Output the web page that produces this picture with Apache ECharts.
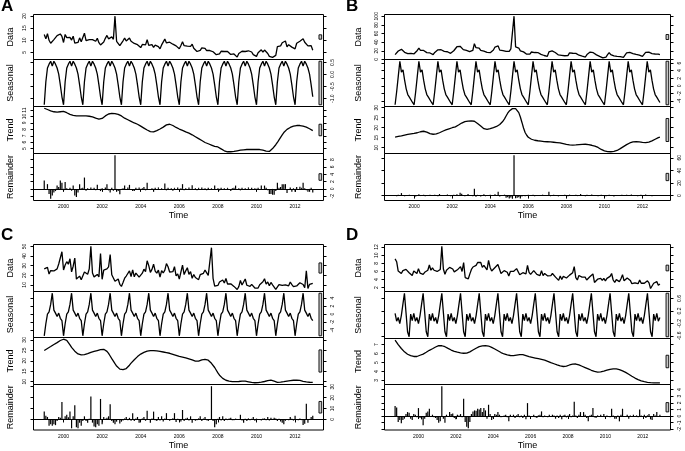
<!DOCTYPE html>
<html><head><meta charset="utf-8">
<script src="https://cdn.jsdelivr.net/npm/echarts@6/dist/echarts.min.js"></script>
<style>html,body{margin:0;padding:0;background:#fff}#c{width:685px;height:451px}</style>
</head><body><div id="c"></div>
<script>
// ---------------- DATA (monthly STL components) ----------------
const startA = 1999, startB = 1999, startC = 1999, startD = 1998.75;
const xTickYears = [2000, 2002, 2004, 2006, 2008, 2010, 2012];

const dataA = [
12.4,10.6,12.7,10.0,8.8,9.4,10.3,10.5,11.9,11.2,12.6,11.6,
9.1,12.4,11.1,10.6,11.2,10.1,11.7,8.8,8.2,9.1,11.0,9.4,
9.2,12.9,9.9,10.7,10.3,10.8,10.3,10.6,9.6,10.8,9.0,8.1,
8.7,9.3,10.8,12.0,10.6,9.8,11.4,10.4,19.9,9.6,9.3,7.8,
8.6,9.8,10.9,9.7,10.5,10.9,9.6,8.9,8.7,9.2,8.2,8.1,
7.0,8.3,9.0,8.1,10.2,7.9,7.9,8.2,7.1,8.0,7.2,7.4,
6.5,8.1,8.4,10.5,8.9,9.5,9.2,9.4,8.4,8.8,7.7,7.6,
6.5,7.9,9.4,7.8,8.4,7.6,8.4,7.5,8.4,6.7,6.6,5.4,
5.6,5.9,6.9,6.2,6.7,5.8,6.6,5.8,6.0,5.3,5.8,4.1,
4.2,4.4,5.5,5.0,5.4,4.6,5.4,4.7,4.2,4.7,4.4,4.6,
3.1,4.6,4.6,5.5,5.2,5.4,5.1,5.7,4.9,5.2,4.1,4.1,
3.4,4.9,4.8,6.1,5.1,6.0,5.5,4.6,3.4,3.3,3.0,2.8,
3.8,7.4,6.9,7.7,9.0,9.2,9.7,7.3,8.2,8.7,7.2,7.8,
6.5,8.8,8.7,9.6,9.4,10.6,9.2,8.4,7.7,7.3,7.8,5.9];
const seasonalA = [
-1.25,-0.30,0.27,0.43,0.55,0.35,0.55,0.43,0.27,0.02,-0.43,-0.92,
-1.25,-0.30,0.27,0.43,0.55,0.35,0.55,0.43,0.27,0.02,-0.43,-0.92,
-1.25,-0.30,0.27,0.43,0.55,0.35,0.55,0.43,0.27,0.02,-0.43,-0.92,
-1.25,-0.30,0.27,0.43,0.55,0.35,0.55,0.43,0.27,0.02,-0.43,-0.92,
-1.25,-0.30,0.27,0.43,0.55,0.35,0.55,0.43,0.27,0.02,-0.43,-0.92,
-1.25,-0.30,0.27,0.43,0.55,0.35,0.55,0.43,0.27,0.02,-0.43,-0.92,
-1.25,-0.30,0.27,0.43,0.55,0.35,0.55,0.43,0.27,0.02,-0.43,-0.92,
-1.25,-0.30,0.27,0.43,0.55,0.35,0.55,0.43,0.27,0.02,-0.43,-0.92,
-1.25,-0.30,0.27,0.43,0.55,0.35,0.55,0.43,0.27,0.02,-0.43,-0.92,
-1.25,-0.30,0.27,0.43,0.55,0.35,0.55,0.43,0.27,0.02,-0.43,-0.92,
-1.25,-0.30,0.27,0.43,0.55,0.35,0.55,0.43,0.27,0.02,-0.43,-0.92,
-1.25,-0.30,0.27,0.43,0.55,0.35,0.55,0.43,0.27,0.02,-0.43,-0.92,
-1.25,-0.30,0.27,0.43,0.55,0.35,0.55,0.43,0.27,0.02,-0.43,-0.92,
-1.25,-0.30,0.27,0.43,0.55,0.35,0.55,0.43,0.27,0.02,-0.43,-0.92];
const trendA = [
11.3,11.2,11.1,11.0,10.9,10.8,10.75,10.7,10.7,10.7,10.75,10.8,
10.8,10.75,10.6,10.5,10.35,10.25,10.2,10.15,10.1,10.1,10.1,10.1,
10.1,10.1,10.1,10.1,10.05,10.0,9.95,9.85,9.75,9.65,9.6,9.6,
9.7,9.9,10.1,10.3,10.4,10.45,10.5,10.45,10.45,10.4,10.35,10.25,
10.1,9.9,9.75,9.6,9.5,9.4,9.25,9.1,9.0,8.9,8.8,8.65,
8.5,8.35,8.2,8.05,7.9,7.75,7.65,7.6,7.6,7.7,7.8,7.95,
8.05,8.15,8.35,8.55,8.7,8.8,8.8,8.75,8.6,8.45,8.3,8.15,
8.05,7.95,7.85,7.75,7.6,7.5,7.4,7.25,7.15,7.0,6.85,6.7,
6.55,6.4,6.25,6.1,5.95,5.85,5.75,5.65,5.55,5.45,5.35,5.3,
5.25,5.1,4.95,4.8,4.65,4.55,4.5,4.5,4.5,4.5,4.55,4.6,
4.65,4.7,4.75,4.8,4.8,4.85,4.85,4.85,4.85,4.85,4.85,4.85,
4.85,4.85,4.85,4.8,4.75,4.7,4.6,4.55,4.55,4.7,5.0,5.3,
5.6,5.95,6.35,6.75,7.15,7.5,7.8,8.0,8.2,8.3,8.4,8.5,
8.55,8.6,8.6,8.6,8.55,8.5,8.45,8.35,8.2,8.1,7.95,7.8];
const remainderA = [
2.3,-0.3,1.3,-1.4,-2.7,-1.8,-1.0,-0.6,0.9,0.5,2.3,1.7,
-0.5,1.9,0.2,-0.3,0.3,-0.5,0.9,-1.8,-2.2,-1.0,1.3,0.2,
0.3,3.1,-0.5,0.2,-0.3,0.4,-0.2,0.3,-0.4,1.1,-0.2,-0.6,
0.2,-0.3,0.4,1.3,-0.4,-1.0,0.3,-0.5,9.2,-0.8,-0.6,-1.5,
-0.3,0.2,0.9,-0.3,0.4,1.1,-0.2,-0.6,-0.6,0.3,-0.2,0.4,
-0.3,0.2,0.5,-0.4,1.7,-0.2,-0.3,0.2,-0.8,0.3,-0.2,0.4,
-0.3,0.2,-0.2,1.5,-0.4,0.3,-0.2,0.2,-0.5,0.3,-0.2,0.4,
-0.3,0.2,1.3,-0.4,0.2,-0.3,0.4,-0.2,1.0,-0.3,0.2,-0.4,
0.3,-0.2,0.4,-0.3,0.2,-0.4,0.3,-0.3,0.2,-0.2,0.9,-0.3,
0.2,-0.4,0.3,-0.2,0.2,-0.3,0.3,-0.2,-0.6,0.2,0.3,0.9,
-0.3,0.2,-0.4,0.3,-0.2,0.2,-0.3,0.4,-0.2,0.3,-0.3,0.2,
-0.2,0.3,-0.3,0.9,-0.2,0.9,0.3,-0.4,-1.4,-1.4,-1.6,-1.6,
-0.6,1.7,0.3,0.5,1.3,1.3,1.3,-1.1,-0.3,0.4,-0.8,0.2,
-0.8,0.5,-0.2,0.6,0.3,1.7,0.2,-0.4,-0.8,-0.8,0.3,-1.0];

const dataB = [
11.1,13.0,19.6,21.8,23.5,21.3,16.6,16.3,13.6,15.0,14.0,12.0,
13.1,14.3,20.8,26.2,20.9,22.8,20.9,16.3,15.9,13.6,15.1,12.7,
11.1,16.4,20.2,22.4,23.6,22.6,18.9,18.8,16.1,17.9,16.6,14.3,
15.9,20.2,22.3,29.5,25.3,30.5,26.8,22.7,19.5,21.2,22.4,18.2,
18.9,20.8,36.5,27.2,26.9,26.3,20.8,20.3,19.2,15.2,16.3,14.1,
15.7,18.7,21.9,28.8,25.2,31.2,21.6,22.3,20.4,22.9,18.9,20.3,
18.8,24.5,27.0,100.2,29.1,29.5,26.5,20.0,18.8,17.6,13.2,12.3,
11.4,12.3,17.3,21.9,16.1,18.2,16.0,12.0,11.8,11.7,9.2,9.6,
7.2,17.4,14.4,19.8,17.5,16.2,14.9,10.5,11.1,9.7,7.8,8.6,
7.0,9.0,15.4,18.4,14.4,16.4,14.1,9.9,9.8,11.1,7.7,8.1,
5.7,11.4,14.6,17.1,16.6,15.6,11.7,10.7,6.6,7.2,7.1,3.8,
4.2,5.7,11.0,15.7,11.0,13.1,8.2,8.0,7.3,5.2,6.7,7.1,
5.0,10.3,15.2,17.9,16.4,18.7,13.6,12.8,11.7,9.0,10.0,9.5,
7.0,11.9,16.6,18.3,16.9,18.3,13.7,13.6,12.7,11.1,12.6,11.3];
const seasonalB = [
-5.0,-1.5,2.5,6.5,3.6,4.2,1.5,-0.8,-2.3,-3.0,-3.4,-4.4,
-5.0,-1.5,2.5,6.5,3.6,4.2,1.5,-0.8,-2.3,-3.0,-3.4,-4.4,
-5.0,-1.5,2.5,6.5,3.6,4.2,1.5,-0.8,-2.3,-3.0,-3.4,-4.4,
-5.0,-1.5,2.5,6.5,3.6,4.2,1.5,-0.8,-2.3,-3.0,-3.4,-4.4,
-5.0,-1.5,2.5,6.5,3.6,4.2,1.5,-0.8,-2.3,-3.0,-3.4,-4.4,
-5.0,-1.5,2.5,6.5,3.6,4.2,1.5,-0.8,-2.3,-3.0,-3.4,-4.4,
-5.0,-1.5,2.5,6.5,3.6,4.2,1.5,-0.8,-2.3,-3.0,-3.4,-4.4,
-5.0,-1.5,2.5,6.5,3.6,4.2,1.5,-0.8,-2.3,-3.0,-3.4,-4.4,
-5.0,-1.5,2.5,6.5,3.6,4.2,1.5,-0.8,-2.3,-3.0,-3.4,-4.4,
-5.0,-1.5,2.5,6.5,3.6,4.2,1.5,-0.8,-2.3,-3.0,-3.4,-4.4,
-5.0,-1.5,2.5,6.5,3.6,4.2,1.5,-0.8,-2.3,-3.0,-3.4,-4.4,
-5.0,-1.5,2.5,6.5,3.6,4.2,1.5,-0.8,-2.3,-3.0,-3.4,-4.4,
-5.0,-1.5,2.5,6.5,3.6,4.2,1.5,-0.8,-2.3,-3.0,-3.4,-4.4,
-5.0,-1.5,2.5,6.5,3.6,4.2,1.5,-0.8,-2.3,-3.0,-3.4,-4.4];
const trendB = [
15.3,15.45,15.6,15.75,15.9,16.1,16.3,16.5,16.65,16.8,16.9,17.0,
17.1,17.25,17.45,17.7,17.95,18.1,18.2,18.1,17.8,17.4,17.0,16.8,
16.7,16.7,16.85,17.1,17.45,17.85,18.2,18.55,18.85,19.1,19.4,19.65,
19.95,20.2,20.4,20.8,21.3,21.8,22.3,22.7,23.0,23.2,23.3,23.35,
23.35,23.3,23.2,22.7,22.1,21.5,20.8,20.1,19.5,19.2,19.15,19.3,
19.5,19.75,20.0,20.3,20.6,21.0,21.6,22.3,23.2,24.4,25.8,27.2,
28.3,29.0,29.5,29.7,29.5,28.8,27.5,25.3,22.6,19.8,17.6,16.2,
15.2,14.6,14.2,13.9,13.7,13.55,13.45,13.35,13.25,13.15,13.05,13.0,
12.95,12.9,12.85,12.8,12.7,12.6,12.55,12.5,12.4,12.2,12.0,11.8,
11.6,11.45,11.35,11.3,11.3,11.35,11.4,11.5,11.55,11.6,11.65,11.7,
11.7,11.65,11.55,11.4,11.2,11.0,10.8,10.5,10.1,9.6,9.1,8.7,
8.35,8.15,8.0,7.95,7.95,8.0,8.1,8.3,8.6,9.0,9.5,10.0,
10.5,11.0,11.5,11.95,12.35,12.65,12.85,13.0,13.0,12.95,12.85,12.7,
12.6,12.5,12.5,12.6,12.8,13.1,13.4,13.8,14.2,14.6,15.0,15.3];
const remainderB = [
0.8,-1.0,1.5,-0.5,4.0,1.0,-1.2,0.6,-0.8,1.2,0.5,-0.6,
1.0,-1.5,0.8,2.0,-0.7,0.5,1.2,-1.0,0.4,-0.8,1.5,0.3,
-0.6,1.2,0.8,-1.2,2.5,0.5,-0.8,1.0,-0.5,1.8,0.6,-1.0,
0.9,1.5,-0.6,2.2,0.4,4.5,3.0,0.8,-1.2,1.0,2.5,-0.8,
0.5,-1.0,10.8,-2.0,1.2,0.6,-1.5,1.0,2.0,-1.0,0.5,-0.8,
1.2,0.4,-0.6,2.0,1.0,6.0,-1.5,0.8,-0.5,1.5,-3.5,-2.5,
-4.5,-3.0,-5.0,64.0,-4.0,-3.5,-2.5,-4.5,-1.5,0.8,-1.0,0.5,
1.2,-0.8,0.6,1.5,-1.2,0.4,1.0,-0.6,0.8,1.5,-0.5,1.0,
-0.8,6.0,-1.0,0.5,1.2,-0.6,0.8,-1.2,1.0,0.5,-0.8,1.2,
0.4,-1.0,1.5,0.6,-0.5,0.8,1.2,-0.8,0.5,2.5,-0.6,0.8,
-1.0,1.2,0.5,-0.8,1.8,0.4,-0.6,1.0,-1.2,0.6,1.4,-0.5,
0.8,-1.0,0.5,1.2,-0.6,0.9,-1.4,0.5,1.0,-0.8,0.6,1.5,
-0.5,0.8,1.2,-0.6,0.4,1.8,-0.8,0.6,1.0,-1.0,0.5,1.2,
-0.6,0.9,1.6,-0.8,0.5,1.0,-1.2,0.6,0.8,-0.5,1.0,0.4];

const dataC = [
26.7,26.5,28.2,21.2,24.9,26.7,24.5,23.3,26.6,31.7,30.2,44.5,
25.5,30.7,34.1,31.5,37.2,23.5,29.4,37.8,16.0,15.4,19.1,15.4,
15.9,23.4,21.6,21.1,26.7,50.2,22.4,18.3,16.9,20.8,18.3,42.5,
15.8,25.4,25.8,26.6,28.8,41.5,20.5,17.1,13.7,15.7,16.1,10.6,
8.4,12.4,16.9,19.2,18.6,24.6,18.7,25.7,18.4,22.3,23.3,18.1,
17.2,22.2,26.3,23.7,35.1,30.0,23.0,26.1,31.5,24.4,22.2,25.3,
18.1,24.8,22.4,25.4,32.1,28.9,23.4,23.6,23.7,28.9,19.3,21.4,
16.1,17.8,30.5,20.7,24.6,27.8,20.9,23.8,16.9,20.8,17.6,17.4,
15.4,20.6,18.9,22.0,25.4,25.1,19.8,20.3,48.7,16.7,8.6,9.6,
9.4,13.0,11.3,15.1,12.0,16.7,10.9,11.5,11.1,9.5,8.4,9.2,
5.2,8.2,14.5,9.8,9.8,16.1,9.6,11.2,8.4,10.5,10.8,6.7,
4.9,6.7,10.2,9.4,13.2,16.3,10.7,13.0,9.1,12.5,10.1,10.2,
5.4,5.8,10.3,8.6,9.4,10.9,10.0,11.0,9.0,13.0,10.2,8.1,
8.9,8.9,10.0,12.2,12.2,10.4,7.0,24.6,6.3,10.5,11.0,11.6];
const seasonalC = [
-5.4,-2.4,0.0,0.55,2.4,5.2,1.0,0.24,-0.6,0.24,-1.05,-1.6,
-5.4,-2.4,0.0,0.55,2.4,5.2,1.0,0.24,-0.6,0.24,-1.05,-1.6,
-5.4,-2.4,0.0,0.55,2.4,5.2,1.0,0.24,-0.6,0.24,-1.05,-1.6,
-5.4,-2.4,0.0,0.55,2.4,5.2,1.0,0.24,-0.6,0.24,-1.05,-1.6,
-5.4,-2.4,0.0,0.55,2.4,5.2,1.0,0.24,-0.6,0.24,-1.05,-1.6,
-5.4,-2.4,0.0,0.55,2.4,5.2,1.0,0.24,-0.6,0.24,-1.05,-1.6,
-5.4,-2.4,0.0,0.55,2.4,5.2,1.0,0.24,-0.6,0.24,-1.05,-1.6,
-5.4,-2.4,0.0,0.55,2.4,5.2,1.0,0.24,-0.6,0.24,-1.05,-1.6,
-5.4,-2.4,0.0,0.55,2.4,5.2,1.0,0.24,-0.6,0.24,-1.05,-1.6,
-5.4,-2.4,0.0,0.55,2.4,5.2,1.0,0.24,-0.6,0.24,-1.05,-1.6,
-5.4,-2.4,0.0,0.55,2.4,5.2,1.0,0.24,-0.6,0.24,-1.05,-1.6,
-5.4,-2.4,0.0,0.55,2.4,5.2,1.0,0.24,-0.6,0.24,-1.05,-1.6,
-5.4,-2.4,0.0,0.55,2.4,5.2,1.0,0.24,-0.6,0.24,-1.05,-1.6,
-5.4,-2.4,0.0,0.55,2.4,5.2,1.0,0.24,-0.6,0.24,-1.05,-1.6];
const trendC = [
24.9,25.4,25.9,26.4,26.8,27.3,27.8,28.3,28.7,29.2,29.7,30.1,
30.3,30.2,29.8,28.9,27.6,26.4,25.5,24.6,23.8,23.3,23.0,22.8,
22.8,22.9,23.1,23.4,23.7,24.0,24.3,24.5,24.7,24.9,25.1,25.3,
25.5,25.5,25.2,24.5,23.5,22.3,21.0,19.8,18.6,17.5,16.6,16.0,
15.8,15.8,15.9,16.3,17.0,17.9,18.9,19.7,20.5,21.3,22.0,22.6,
23.2,23.6,24.0,24.3,24.6,24.8,24.9,24.9,24.9,24.8,24.7,24.6,
24.5,24.3,24.2,24.0,23.9,23.7,23.6,23.4,23.1,22.9,22.6,22.4,
22.1,22.0,21.8,21.6,21.4,21.1,20.9,20.7,20.4,20.1,19.8,19.6,
19.8,20.1,20.4,20.6,20.7,20.7,20.3,19.6,18.8,18.0,16.8,15.5,
14.2,13.1,12.3,11.6,11.1,10.7,10.5,10.3,10.15,10.05,10.0,10.0,
10.05,10.1,10.2,10.25,10.3,10.25,10.1,9.95,9.8,9.65,9.55,9.5,
9.5,9.6,9.7,9.8,9.95,10.1,10.3,10.5,10.7,10.8,10.6,10.3,
10.0,9.7,9.7,9.8,9.9,10.0,10.15,10.3,10.4,10.5,10.6,10.7,
10.75,10.8,10.75,10.6,10.4,10.2,10.0,9.9,9.8,9.75,9.7,9.7];
const remainderC = [
7.2,3.5,2.3,-5.8,-4.3,-5.8,-4.3,-5.2,-1.5,2.3,1.5,16.0,
0.6,2.9,4.3,2.0,7.2,-8.1,2.9,13.0,-7.2,-8.1,-2.9,-5.8,
-1.5,2.9,-1.5,-2.9,0.6,21.0,-2.9,-6.4,-7.2,-4.3,-5.8,18.8,
-4.3,2.3,0.6,1.5,2.9,14.0,-1.5,-2.9,-4.3,-2.0,0.5,-3.8,
-2.0,-1.0,1.0,2.3,-0.8,1.5,-1.2,5.8,-1.5,0.8,2.3,-2.9,
-0.6,1.0,2.3,-1.2,8.1,0.0,-2.9,1.0,7.2,-0.6,-1.5,2.3,
-1.0,2.9,-1.8,0.8,5.8,0.0,-1.2,0.0,1.2,5.8,-2.3,0.6,
-0.6,-1.8,8.7,-1.5,0.8,1.5,-1.0,2.9,-2.9,0.5,-1.2,-0.6,
1.0,2.9,-1.5,0.8,2.3,-0.8,-1.5,0.5,30.5,-1.5,-7.2,-4.3,
0.6,2.3,-1.0,2.9,-1.5,0.8,-0.6,1.0,1.5,-0.8,-0.6,0.8,
0.5,0.5,4.3,-1.0,-2.9,0.6,-1.5,1.0,-0.8,0.6,2.3,-1.2,
0.8,-0.5,0.5,-1.0,0.8,1.0,-0.6,2.3,-1.0,1.5,0.5,1.5,
0.8,-1.5,0.6,-1.8,-2.9,-4.3,-1.2,0.5,-0.8,2.3,0.6,-1.0,
3.5,0.5,-0.8,1.0,-0.6,-5.0,-4.0,14.5,-2.9,0.5,2.3,3.5];

const dataD = [
9.1,8.4,6.1,6.0,5.5,6.2,6.6,6.5,6.1,5.7,5.5,5.0,
6.1,5.7,5.5,6.7,5.6,5.8,5.3,5.8,6.2,6.3,7.6,6.3,
6.9,6.3,6.4,6.0,5.9,6.5,12.2,6.6,5.3,6.3,6.7,7.0,
6.8,6.6,5.9,5.5,6.4,6.6,7.2,6.0,8.2,4.5,4.6,4.2,
5.4,6.5,7.1,7.1,7.5,8.2,8.6,8.2,7.0,7.5,7.9,6.4,
8.7,7.0,6.1,6.1,6.9,7.0,7.7,6.6,5.5,5.3,6.2,6.0,
5.8,4.9,6.0,5.6,6.0,5.9,6.7,6.3,5.2,5.4,5.7,5.9,
5.4,7.5,5.8,5.3,5.5,6.2,6.1,5.3,5.1,5.0,6.2,5.0,
5.5,5.1,4.9,5.1,5.0,5.5,5.7,4.6,4.4,3.8,4.9,4.0,
4.8,4.6,4.4,4.6,5.1,5.0,5.7,7.2,4.5,3.9,5.0,5.2,
4.6,5.0,4.6,3.9,3.5,4.7,5.1,5.4,3.3,3.0,4.1,3.8,
4.3,3.8,4.3,3.7,4.3,4.6,4.8,5.5,3.9,3.3,4.0,4.3,
3.5,4.2,5.2,3.7,4.0,4.4,4.1,3.8,3.0,2.9,3.2,3.2,
3.0,3.9,3.1,2.7,3.1,2.9,3.7,3.2,1.8,1.5,3.1,2.7,
3.5,2.6,2.9];
const seasonalD = [
0.12,-0.13,-0.01,
-0.21,0.05,0.41,0.77,0.15,-0.47,-0.63,0.10,-0.11,0.12,-0.13,-0.01,
-0.21,0.05,0.41,0.77,0.15,-0.47,-0.63,0.10,-0.11,0.12,-0.13,-0.01,
-0.21,0.05,0.41,0.77,0.15,-0.47,-0.63,0.10,-0.11,0.12,-0.13,-0.01,
-0.21,0.05,0.41,0.77,0.15,-0.47,-0.63,0.10,-0.11,0.12,-0.13,-0.01,
-0.21,0.05,0.41,0.77,0.15,-0.47,-0.63,0.10,-0.11,0.12,-0.13,-0.01,
-0.21,0.05,0.41,0.77,0.15,-0.47,-0.63,0.10,-0.11,0.12,-0.13,-0.01,
-0.21,0.05,0.41,0.77,0.15,-0.47,-0.63,0.10,-0.11,0.12,-0.13,-0.01,
-0.21,0.05,0.41,0.77,0.15,-0.47,-0.63,0.10,-0.11,0.12,-0.13,-0.01,
-0.21,0.05,0.41,0.77,0.15,-0.47,-0.63,0.10,-0.11,0.12,-0.13,-0.01,
-0.21,0.05,0.41,0.77,0.15,-0.47,-0.63,0.10,-0.11,0.12,-0.13,-0.01,
-0.21,0.05,0.41,0.77,0.15,-0.47,-0.63,0.10,-0.11,0.12,-0.13,-0.01,
-0.21,0.05,0.41,0.77,0.15,-0.47,-0.63,0.10,-0.11,0.12,-0.13,-0.01,
-0.21,0.05,0.41,0.77,0.15,-0.47,-0.63,0.10,-0.11,0.12,-0.13,-0.01,
-0.21,0.05,0.41,0.77,0.15,-0.47,-0.63,0.10,-0.11,0.12,-0.13,-0.01];
const trendD = [
7.5,7.25,7.0,6.78,6.57,6.38,6.2,6.05,5.93,5.85,5.78,5.72,
5.68,5.67,5.68,5.73,5.82,5.88,5.95,6.05,6.15,6.27,6.37,6.45,
6.55,6.65,6.74,6.83,6.89,6.9,6.88,6.83,6.77,6.68,6.58,6.48,
6.4,6.32,6.25,6.2,6.16,6.12,6.08,6.05,6.04,6.04,6.06,6.12,
6.2,6.3,6.4,6.5,6.6,6.7,6.79,6.84,6.87,6.89,6.9,6.89,
6.85,6.78,6.7,6.62,6.52,6.42,6.32,6.22,6.12,6.03,5.96,5.9,
5.85,5.81,5.79,5.78,5.78,5.8,5.83,5.86,5.88,5.89,5.88,5.84,
5.78,5.72,5.67,5.62,5.59,5.55,5.51,5.47,5.43,5.39,5.35,5.31,
5.27,5.21,5.14,5.07,5.0,4.93,4.87,4.81,4.74,4.68,4.62,4.58,
4.56,4.57,4.61,4.67,4.73,4.79,4.83,4.85,4.84,4.8,4.74,4.67,
4.59,4.51,4.44,4.36,4.29,4.21,4.14,4.07,4.01,3.96,3.93,3.93,
3.95,3.99,4.04,4.1,4.16,4.21,4.25,4.28,4.3,4.31,4.3,4.27,
4.22,4.15,4.07,3.99,3.9,3.8,3.69,3.58,3.47,3.37,3.27,3.18,
3.1,3.03,2.96,2.91,2.86,2.82,2.79,2.77,2.75,2.74,2.74,2.74,
2.74,2.74,2.74];
const remainderD = [
1.5,1.3,-0.9,-0.6,-1.1,-0.6,-0.4,0.3,0.6,0.5,-0.4,-0.6,
0.3,0.2,-0.2,1.2,-0.3,-0.5,-1.4,-0.4,0.5,0.7,1.1,0.0,
0.2,-0.2,-0.3,-0.6,-1.0,-0.8,4.5,-0.4,-1.0,0.2,0.0,0.6,
0.3,0.4,-0.3,-0.5,0.2,0.1,0.3,-0.2,2.6,-0.9,-1.6,-1.85,
-0.9,0.3,0.7,0.85,0.8,1.1,1.0,1.2,0.6,1.2,0.85,-0.4,
1.7,0.3,-0.6,-0.3,0.3,0.2,0.6,0.2,-0.2,-0.15,0.1,0.2,
-0.2,-0.8,0.2,0.0,0.2,-0.3,0.1,0.3,-0.2,0.1,-0.3,0.2,
-0.5,1.95,0.1,-0.15,-0.1,0.2,-0.2,-0.3,0.1,0.2,0.7,-0.2,
0.1,0.0,-0.2,0.2,-0.1,0.2,0.1,-0.4,0.1,-0.3,0.2,-0.5,
0.1,0.2,-0.2,0.1,0.3,-0.2,0.1,2.15,0.1,-0.3,0.2,0.6,
-0.1,0.6,0.2,-0.3,-0.8,0.1,0.2,1.2,-0.2,-0.3,0.1,0.0,
0.2,-0.1,0.3,-0.2,0.1,0.0,-0.2,1.1,0.1,-0.4,-0.4,0.1,
-0.8,0.2,1.1,-0.1,0.0,0.2,-0.4,0.1,0.0,0.2,-0.15,0.1,
-0.2,1.0,0.1,0.0,0.2,-0.3,0.1,0.3,-0.5,-0.6,0.3,0.1,
0.6,0.0,0.2];

// tick labels
const labelsDataA = [5,10,15,20], labelsSeasonalA = [-1.0,-0.5,0.0,0.5], labelsTrendA = [5,6,7,8,9,10,11], labelsRemainderA = [-2,0,2,4,6,8];
const labelsDataB = [0,20,40,60,80,100], labelsSeasonalB = [-4,-2,0,2,4,6], labelsTrendB = [10,15,20,25,30], labelsRemainderB = [0,20,40,60];
const labelsDataC = [10,20,30,40,50], labelsSeasonalC = [-4,-2,0,2,4], labelsTrendC = [10,15,20,25,30], labelsRemainderC = [0,10,20,30];
const labelsDataD = [2,4,6,8,10,12], labelsSeasonalD = [-0.6,-0.2,0.2,0.6], labelsTrendD = [3,4,5,6,7], labelsRemainderD = [-2,-1,0,1,2,3,4];
const compNames = ['Data','Seasonal','Trend','Remainder'];

// ---------------- LAYOUT ----------------
const FONT = '"Liberation Sans", Arial, sans-serif';
const panels = [
  {letter:'A', lx:1, ly:-2, left:33, width:290, tops:[14,59,106,153,200], start:startA,
   comps:[dataA,seasonalA,trendA,remainderA], labels:[labelsDataA,labelsSeasonalA,labelsTrendA,labelsRemainderA], dec:[0,1,0,0], lm:6, ng:18},
  {letter:'B', lx:346, ly:-2, left:384, width:286, tops:[14,59,106,153,200], start:startB,
   comps:[dataB,seasonalB,trendB,remainderB], labels:[labelsDataB,labelsSeasonalB,labelsTrendB,labelsRemainderB], dec:[0,0,0,0], lm:5, ng:21},
  {letter:'C', lx:1, ly:227, left:33, width:290, tops:[244,291,337,384,432], start:startC,
   comps:[dataC,seasonalC,trendC,remainderC], labels:[labelsDataC,labelsSeasonalC,labelsTrendC,labelsRemainderC], dec:[0,0,0,0], lm:6, ng:18},
  {letter:'D', lx:346, ly:227, left:384, width:286, tops:[244,291,338,384,431], start:startD,
   comps:[dataD,seasonalD,trendD,remainderD], labels:[labelsDataD,labelsSeasonalD,labelsTrendD,labelsRemainderD], dec:[0,1,0,0], lm:5, ng:21}
];

const option = {animation:false, textStyle:{fontFamily:FONT}, grid:[], xAxis:[], yAxis:[], series:[], graphic:[]};

panels.forEach((p, pi) => {
  const n = p.comps[0].length;
  const times = p.comps[0].map((_, i) => p.start + i / 12);
  const tr = times[n-1] - times[0];
  const xmin = times[0] - 0.04 * tr, xmax = times[n-1] + 0.04 * tr;
  const ranges = p.comps.map(a => [Math.min(...a), Math.max(...a)]);
  const mx = Math.min(...ranges.map(r => r[1] - r[0]));
  const dx = (xmax - xmin) / 64;
  option.graphic.push({type:'text', left:p.lx, top:p.ly, style:{text:p.letter, font:'bold 17px ' + FONT, fill:'#000'}});
  p.comps.forEach((arr, k) => {
    const g = pi * 4 + k;
    const [lo, hi] = ranges[k];
    const r = hi - lo;
    const ymin = lo - 0.04 * r, ymax = hi + 0.04 * r;
    const bottom = k === 3;
    option.grid.push({left:p.left + 0.5, top:p.tops[k] + 0.5, width:p.width, height:p.tops[k+1] - p.tops[k],
      show:true, borderColor:'#000', borderWidth:1, backgroundColor:'transparent'});
    option.xAxis.push({type:'value', gridIndex:g, min:xmin, max:xmax,
      axisLine:{show:false}, splitLine:{show:false},
      axisTick:{show:bottom, customValues:xTickYears, length:3, lineStyle:{color:'#000', width:1}},
      axisLabel:{show:bottom, customValues:xTickYears, fontSize:5, color:'#000', margin:4, formatter:v => String(Math.round(v))},
      name: bottom ? 'Time' : '', nameLocation:'middle', nameGap:11, nameTextStyle:{fontSize:9, color:'#000'}});
    const labs = p.labels[k];
    const d = p.dec[k];
    const common = {type:'value', gridIndex:g, min:ymin, max:ymax, axisLine:{show:false}, splitLine:{show:false},
      axisTick:{show:true, customValues:labs, length:3, lineStyle:{color:'#000', width:1}}};
    option.yAxis.push(Object.assign({}, common, {position:'left',
      axisLabel:{show:k % 2 === 0, customValues:labs, rotate:90, fontSize:5, color:'#000', margin:p.lm, formatter:v => v.toFixed(d)},
      name:compNames[k], nameLocation:'middle', nameRotate:90, nameGap:p.ng, nameTextStyle:{fontSize:9, color:'#000'}}));
    option.yAxis.push(Object.assign({}, common, {position:'right',
      axisLabel:{show:k % 2 === 1, customValues:labs, rotate:90, fontSize:5, color:'#000', margin:7, formatter:v => v.toFixed(d)}}));
    const mid = (lo + hi) / 2;
    const pairs = arr.map((v, i) => [times[i], v]);
    const s = {xAxisIndex:g, yAxisIndex:2 * g, data:pairs, silent:true, animation:false,
      markArea:{silent:true, label:{show:false},
        itemStyle:{color:'#c8c8c8', borderColor:'#000', borderWidth:0.9},
        data:[[{coord:[xmax - dx, mid - mx / 2]}, {coord:[xmax - 0.4 * dx, mid + mx / 2]}]]}};
    if (bottom) {
      Object.assign(s, {type:'bar', barWidth:1.2, itemStyle:{color:'#000'},
        markLine:{silent:true, symbol:['none','none'], label:{show:false}, lineStyle:{color:'#000', width:1, type:'solid'}, data:[{yAxis:0}]}});
    } else {
      Object.assign(s, {type:'line', showSymbol:false, symbol:'none', lineStyle:{color:'#000', width:1.3}});
    }
    option.series.push(s);
  });
});

const chart = echarts.init(document.getElementById('c'), null, {renderer:'canvas'});
chart.setOption(option);
</script>
</body></html>
